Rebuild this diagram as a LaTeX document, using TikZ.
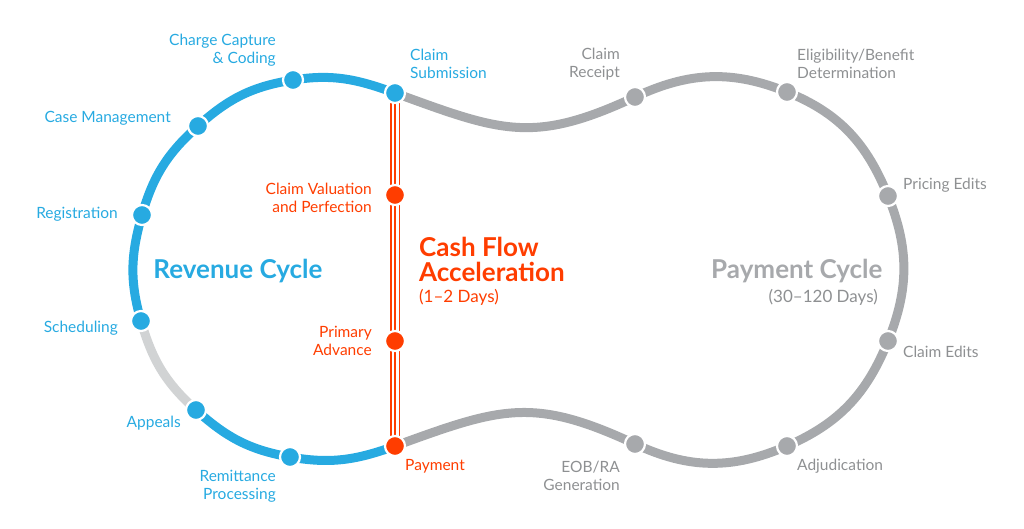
\documentclass[tikz,border=0pt]{standalone}
\usepackage{fontspec}
\setmainfont{Lato}
\usetikzlibrary{backgrounds}
\definecolor{revBlue}{HTML}{27AAE1}
\definecolor{payGray}{HTML}{A7A9AC}
\definecolor{idleGray}{HTML}{D1D3D4}
\definecolor{cashRed}{HTML}{FF3D00}
\definecolor{labGray}{HTML}{8E9092}
\tikzset{
	cyc/.style={line width=9pt},
	dot/.style={circle, minimum size=20pt, inner sep=0pt, draw=white, line width=2.2pt, fill=#1},
	lab/.style={inner sep=0pt, font=\fontsize{15.5}{18}\selectfont, text=#1},
	ttl/.style={inner sep=0pt, font=\fontsize{26}{25}\selectfont\bfseries, text=#1},
}
\begin{document}
\begin{tikzpicture}[x=1pt, y=1pt, line join=round]
	\useasboundingbox (0,0) rectangle (1024,-529);
	% revenue cycle stations
	\node[dot=revBlue] (cs) at (395,-93) {};
	\node[dot=revBlue] (cc) at (293,-80) {};
	\node[dot=revBlue] (cm) at (198,-126) {};
	\node[dot=revBlue] (rg) at (142,-215) {};
	\node[dot=revBlue] (sc) at (141,-321) {};
	\node[dot=revBlue] (ap) at (196,-410) {};
	\node[dot=revBlue] (rp) at (290,-457) {};
	% cash flow stations
	\node[dot=cashRed] (cv) at (395,-195) {};
	\node[dot=cashRed] (pa) at (395,-341) {};
	\node[dot=cashRed] (pm) at (395,-446) {};
	% payment cycle stations
	\node[dot=payGray] (cr) at (635,-97) {};
	\node[dot=payGray] (eb) at (787,-92) {};
	\node[dot=payGray] (pe) at (888,-196) {};
	\node[dot=payGray] (ce) at (888,-341) {};
	\node[dot=payGray] (ad) at (787,-446) {};
	\node[dot=payGray] (eo) at (635,-444) {};
	\begin{scope}[on background layer]
		\draw[cyc,payGray] (cs.center) to[out=-20,in=205,looseness=1.2] (cr.center)
			to[out=25,in=158] (eb.center) to[out=-22,in=112] (pe.center)
			to[out=-68,in=68] (ce.center) to[out=-112,in=23.5] (ad.center)
			to[out=203.5,in=-25] (eo.center) to[out=155,in=20,looseness=1.2] (pm.center);
		\draw[cyc,revBlue] (cs.center) to[out=160,in=9] (cc.center) to[out=189,in=42] (cm.center)
			to[out=222,in=74] (rg.center) to[out=254,in=106] (sc.center);
		\draw[cyc,idleGray] (sc.center) to[out=286,in=138] (ap.center);
		\draw[cyc,revBlue] (ap.center) to[out=318,in=170] (rp.center) to[out=350,in=200] (pm.center);
		\foreach \dx in {-4.4,0,4.4}
			\draw[cashRed,line width=1.8pt] ([xshift=\dx pt]cs.center) -- ([xshift=\dx pt]pm.center);
	\end{scope}
	% labels
	\node[lab=revBlue,anchor=east,align=right] (lcc) at (276,-50) {Charge Capture\\\& Coding};
	\node[lab=revBlue,anchor=west,align=left] (lcs) at (410,-64) {Claim\\Submission};
	\node[lab=revBlue,anchor=east] (lcm) at (171,-118) {Case Management};
	\node[lab=revBlue,anchor=east] (lrg) at (118,-214) {Registration};
	\node[lab=revBlue,anchor=east] (lsc) at (118,-328) {Scheduling};
	\node[lab=revBlue,anchor=east] (lap) at (181,-423) {Appeals};
	\node[lab=revBlue,anchor=east,align=right] (lrp) at (276,-486) {Remittance\\Processing};
	\node[lab=cashRed,anchor=east,align=right] (lcv) at (372,-198) {Claim Valuation\\and Perfection};
	\node[lab=cashRed,anchor=east,align=right] (lpa) at (372,-341) {Primary\\Advance};
	\node[lab=cashRed,anchor=west] (lpm) at (405,-466) {Payment};
	\node[lab=labGray,anchor=east,align=right] (lcr) at (620,-64) {Claim\\Receipt};
	\node[lab=labGray,anchor=west,align=left] (leb) at (797,-64) {Eligibility/Benefit\\Determination};
	\node[lab=labGray,anchor=west] (lpe) at (903,-185) {Pricing Edits};
	\node[lab=labGray,anchor=west] (lce) at (903,-352) {Claim Edits};
	\node[lab=labGray,anchor=west] (lad) at (797,-466) {Adjudication};
	\node[lab=labGray,anchor=east,align=right] (leo) at (620,-476) {EOB/RA\\Generation};
	% titles
	\node[ttl=revBlue] (trev) at (238,-271) {Revenue Cycle};
	\node[ttl=cashRed,anchor=west,align=left] (tcash) at (419,-259) {Cash Flow\\Acceleration};
	\node[lab=cashRed,anchor=west,font=\fontsize{17}{18}\selectfont] (dcash) at (419,-297) {(1–2 Days)};
	\node[ttl=payGray,anchor=west] (tpay) at (711,-271) {Payment Cycle};
	\node[lab=labGray,anchor=east,font=\fontsize{17}{18}\selectfont] (dpay) at (878,-297) {(30–120 Days)};
\end{tikzpicture}
\end{document}
